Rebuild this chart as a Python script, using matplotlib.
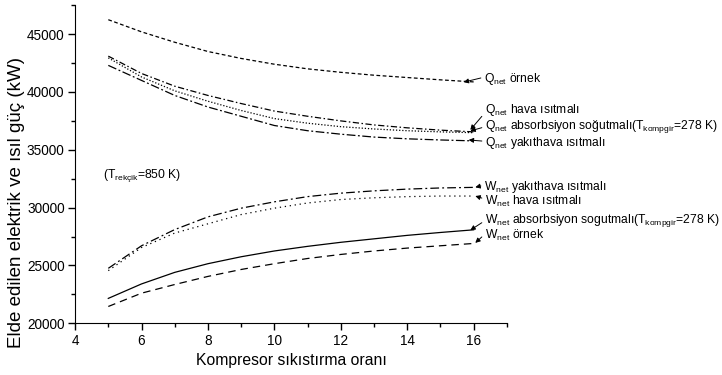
import numpy as np
import matplotlib.pyplot as plt
from matplotlib.ticker import MultipleLocator

plt.rcParams['font.family'] = ['Liberation Sans', 'DejaVu Sans']
plt.rcParams['mathtext.fontset'] = 'custom'
plt.rcParams['mathtext.rm'] = 'Liberation Sans'
plt.rcParams['mathtext.it'] = 'Liberation Sans'

# kompresor sıkıştırma oranı
oran = [5, 6, 7, 8, 9, 10, 11, 12, 13, 14, 15, 16]

# ısıl güç (kW)
q_ornek = [46250, 45200, 44300, 43500, 42900, 42400, 42000, 41700, 41450, 41250, 41050, 40870]
q_absorbsiyon = [43100, 41600, 40500, 39700, 39000, 38350, 37900, 37500, 37150, 36900, 36700, 36550]
q_hava = [42950, 41300, 40100, 39200, 38400, 37700, 37300, 37000, 36800, 36650, 36550, 36480]
q_yakithava = [42300, 41000, 39700, 38700, 37900, 37100, 36650, 36350, 36100, 35950, 35850, 35770]

# elektrik gücü (kW)
w_yakithava = [24750, 26700, 28100, 29200, 29950, 30500, 30950, 31250, 31450, 31600, 31700, 31750]
w_hava = [24550, 26550, 27800, 28600, 29400, 29950, 30400, 30700, 30850, 30950, 31000, 31000]
w_absorbsiyon = [22150, 23400, 24400, 25150, 25750, 26250, 26650, 27000, 27300, 27600, 27850, 28080]
w_ornek = [21450, 22600, 23350, 24050, 24650, 25150, 25600, 25950, 26250, 26500, 26700, 26900]

fig = plt.figure(figsize=(7.22, 3.75), dpi=100)
ax = fig.add_axes([0.104, 0.138, 0.598, 0.848])

lw = 0.9
ax.plot(oran, q_ornek, color='k', lw=lw, dashes=(3, 2))
ax.plot(oran, q_absorbsiyon, color='k', lw=lw, dashes=(5, 2, 1.2, 2))
ax.plot(oran, q_hava, color='k', lw=lw, dashes=(1, 1.5))
ax.plot(oran, q_yakithava, color='k', lw=lw, dashes=(7, 2, 1.5, 2))

ax.plot(oran, w_yakithava, color='k', lw=lw, dashes=(7, 2.5, 1.5, 2.5))
ax.plot(oran, w_hava, color='k', lw=lw, dashes=(1, 3))
ax.plot(oran, w_absorbsiyon, color='k', lw=lw)
ax.plot(oran, w_ornek, color='k', lw=lw, dashes=(6, 4))

ax.set_xlim(4, 17)
ax.set_ylim(20000, 47500)
ax.xaxis.set_major_locator(MultipleLocator(2))
ax.xaxis.set_minor_locator(MultipleLocator(1))
ax.yaxis.set_major_locator(MultipleLocator(5000))
ax.yaxis.set_minor_locator(MultipleLocator(2500))
ax.spines['top'].set_visible(False)
ax.spines['right'].set_visible(False)
ax.tick_params(which='major', direction='out', length=5, width=1, labelsize=9.8, pad=2.5)
ax.tick_params(which='minor', direction='out', length=3, width=1)

ax.set_xlabel('Kompresor sıkıstırma oranı', fontsize=11.3)
ax.set_ylabel('Elde edilen elektrik ve ısıl güç (kW)', fontsize=13.5)
ax.xaxis.set_label_coords(0.5, -0.092)
ax.yaxis.set_label_coords(-0.117, 0.38)

ax.text(4.84, 32770, r'(T$_{\mathrm{rekçik}}$=850 K)', fontsize=8.7, va='center')

ok = dict(arrowstyle='-|>', color='k', lw=0.7, mutation_scale=7,
          shrinkA=0, shrinkB=0)

etiketler = [
    (r'Q$_{\mathrm{net}}$ örnek', (15.7, 40850), (16.3, 41130), (0, 0.6)),
    (r'Q$_{\mathrm{net}}$ hava ısıtmalı', (15.9, 36720), (16.33, 38450), (0, 0.3)),
    (r'Q$_{\mathrm{net}}$ absorbsiyon soğutmalı(T$_{\mathrm{kompgir}}$=278 K)', (15.9, 36630), (16.33, 36980), (0, 0.5)),
    (r'Q$_{\mathrm{net}}$ yakıthava ısıtmalı', (15.85, 35850), (16.33, 35600), (0, 0.6)),
    (r'W$_{\mathrm{net}}$ yakıthava ısıtmalı', (16.05, 31760), (16.3, 31790), (0, 0.6)),
    (r'W$_{\mathrm{net}}$ hava ısıtmalı', (16.05, 31000), (16.33, 30490), (0, 0.7)),
    (r'W$_{\mathrm{net}}$ absorbsiyon sogutmalı(T$_{\mathrm{kompgir}}$=278 K)', (15.9, 28050), (16.33, 28850), (0, 0.5)),
    (r'W$_{\mathrm{net}}$ örnek', (16.05, 26950), (16.33, 27550), (0, 0.6)),
]
for metin, uc, konum, rp in etiketler:
    ax.annotate(metin, xy=uc, xytext=konum, fontsize=8.7, va='center', ha='left',
                annotation_clip=False, arrowprops=dict(ok, relpos=rp))

fig.savefig('out.png', dpi=100)
